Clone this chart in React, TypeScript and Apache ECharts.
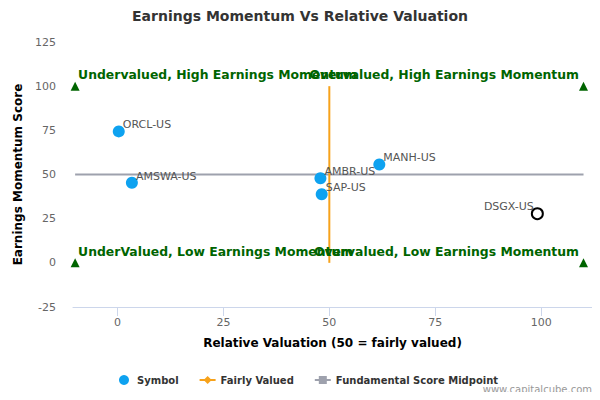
import * as echarts from 'echarts';
import { useEffect, useRef } from 'react';

const symbols = ['ORCL-US', 'AMSWA-US', 'AMBR-US', 'SAP-US', 'MANH-US', 'DSGX-US'];
const valuation = [0.3, 3.4, 47.9, 48.2, 61.8, 99.1];
const momentum = [74.4, 45.3, 47.9, 38.8, 55.7, 27.8];
const focusSymbol = 'DSGX-US';

const quadrantNames = [
    'Undervalued, High Earnings Momentum',
    'Overvalued, High Earnings Momentum',
    'UnderValued, Low Earnings Momentum',
    'Overvalued, Low Earnings Momentum',
];
const quadrantX = [-10, 110, -10, 110];
const quadrantY = [100, 100, 0, 0];

const fairX = [50, 50];
const fairY = [0, 100];
const midX = [-10, 110];
const midY = [50, 50];

const xTicks = [0, 25, 50, 75, 100];
const yTicks = [-25, 0, 25, 50, 75, 100, 125];

const FONT = 'DejaVu Sans';

const App = () => {
    const chartRef = useRef(null);

    useEffect(() => {
        const chart = echarts.init(chartRef.current, null, { renderer: 'svg' });

        const symbolData = symbols.map((name, i) => {
            const focus = name === focusSymbol;
            return {
                name,
                value: [valuation[i], momentum[i]],
                itemStyle: focus
                    ? { color: '#fff', borderColor: '#000', borderWidth: 2, opacity: 1 }
                    : undefined,
                symbolSize: focus ? 11 : 12,
                label: focus
                    ? { position: [3, -6], align: 'right' }
                    : { position: [10, -6], align: 'left' },
            };
        });

        const quadrantData = quadrantNames.map((name, i) => ({
            name,
            value: [quadrantX[i], quadrantY[i]],
            label: i % 2 === 0
                ? { position: [7.5, -1], align: 'left' }
                : { position: [0, -1], align: 'right' },
        }));

        const option = {
            animation: false,
            textStyle: { fontFamily: FONT },
            title: {
                text: 'Earnings Momentum Vs Relative Valuation',
                left: 'center',
                top: 4,
                textStyle: { fontSize: 14, fontWeight: 'bold', color: '#333', fontFamily: FONT },
            },
            legend: {
                bottom: 10,
                left: 114,
                itemWidth: 16,
                itemHeight: 10,
                itemGap: 20,
                textStyle: { fontSize: 10, fontWeight: 'bold', color: '#333', fontFamily: FONT },
                data: [
                    { name: 'Symbol', icon: 'circle' },
                    { name: 'Fairly Valued' },
                    { name: 'Fundamental Score Midpoint' },
                ],
            },
            grid: { left: 73, right: 8, top: 42, bottom: 93 },
            xAxis: {
                type: 'value',
                min: -10.5,
                max: 112,
                name: 'Relative Valuation (50 = fairly valued)',
                nameLocation: 'middle',
                nameGap: 30,
                nameTextStyle: { fontSize: 12, fontWeight: 'bold', color: '#000', fontFamily: FONT },
                axisLine: { onZero: false, lineStyle: { color: '#ccd6eb' } },
                axisTick: { show: true, length: 9, customValues: xTicks, lineStyle: { color: '#ccd6eb' } },
                axisLabel: {
                    color: '#666',
                    fontSize: 11,
                    margin: 10,
                    customValues: xTicks,
                },
                splitLine: { show: false },
            },
            yAxis: {
                type: 'value',
                min: -25,
                max: 125,
                interval: 25,
                name: 'Earnings Momentum Score',
                nameLocation: 'middle',
                nameGap: 41,
                nameTextStyle: { fontSize: 12, fontWeight: 'bold', color: '#000', fontFamily: FONT },
                axisLine: { show: false },
                axisTick: { show: false },
                axisLabel: {
                    color: '#666',
                    fontSize: 11,
                    margin: 17,
                    customValues: yTicks,
                },
                splitLine: { show: false },
            },
            series: [
                {
                    name: 'Fundamental Score Midpoint',
                    type: 'line',
                    data: midX.map((x, i) => [x, midY[i]]),
                    symbol: 'rect',
                    symbolSize: 8,
                    showSymbol: false,
                    lineStyle: { color: '#9ea1ad', width: 2 },
                    itemStyle: { color: '#9ea1ad' },
                    silent: true,
                    z: 1,
                },
                {
                    name: 'Fairly Valued',
                    type: 'line',
                    data: fairX.map((x, i) => [x, fairY[i]]),
                    symbol: 'diamond',
                    symbolSize: 9,
                    showSymbol: false,
                    lineStyle: { color: '#f7a21b', width: 2 },
                    itemStyle: { color: '#f7a21b' },
                    silent: true,
                    z: 2,
                },
                {
                    name: 'Symbol',
                    type: 'scatter',
                    data: symbolData,
                    symbol: 'circle',
                    itemStyle: { color: '#0ea2f0', opacity: 1 },
                    label: {
                        show: true,
                        formatter: '{b}',
                        color: '#555',
                        fontSize: 11,
                        fontFamily: FONT,
                        verticalAlign: 'top',
                    },
                    z: 3,
                },
                {
                    name: 'Quadrants',
                    type: 'scatter',
                    data: quadrantData,
                    symbol: 'triangle',
                    symbolSize: 9,
                    itemStyle: { color: '#006400', opacity: 1 },
                    label: {
                        show: true,
                        formatter: '{b}',
                        color: '#006400',
                        fontSize: 12.4,
                        fontWeight: 'bold',
                        fontFamily: FONT,
                        verticalAlign: 'bottom',
                    },
                    z: 4,
                },
            ],
            graphic: [
                {
                    type: 'text',
                    right: 8,
                    top: 384,
                    style: { text: 'www.capitalcube.com', fill: '#999', fontSize: 10, fontFamily: FONT },
                },
            ],
        };

        chart.setOption(option);

        return () => {
            chart.dispose();
        };
    }, []);

    return <div ref={chartRef} style={{ width: '600px', height: '400px', margin: '-8px' }} />;
};

export default App;
